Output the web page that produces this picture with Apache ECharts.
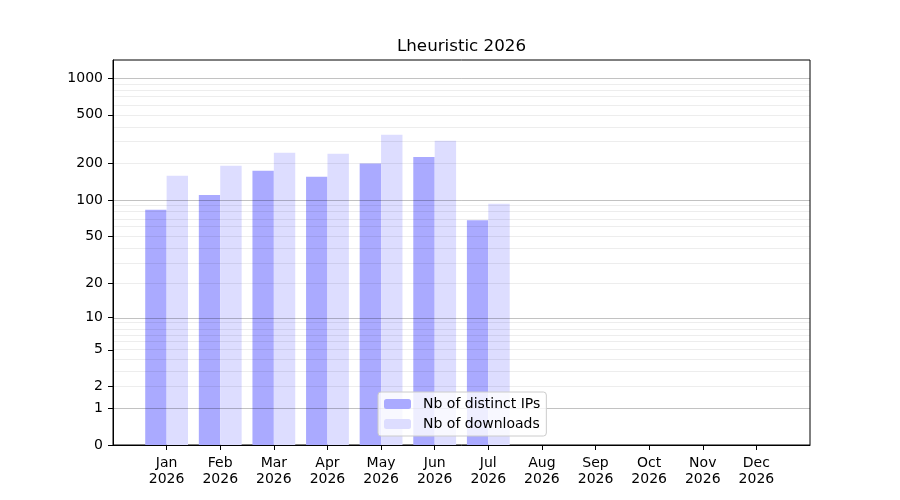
<!DOCTYPE html>
<html>
<head>
<meta charset="utf-8">
<script src="https://cdn.jsdelivr.net/npm/echarts@6/dist/echarts.min.js"></script>
<style>
  html, body { margin: 0; padding: 0; background: #fff; }
  #chart { width: 900px; height: 500px; }
</style>
</head>
<body>
<div id="chart"></div>
<script>
// values
const months = ['Jan', 'Feb', 'Mar', 'Apr', 'May', 'Jun', 'Jul', 'Aug', 'Sep', 'Oct', 'Nov', 'Dec'];
const year = '2026';
const distinctIps = [83, 110, 174, 155, 199, 226, 68, 0, 0, 0, 0, 0];
const downloads = [158, 191, 244, 240, 343, 306, 93, 0, 0, 0, 0, 0];
const yTicks = [0, 1, 2, 5, 10, 20, 50, 100, 200, 500, 1000];
const majorGrid = [1, 10, 100, 1000];
const minorGrid = [2, 3, 4, 5, 6, 7, 8, 9, 20, 30, 40, 50, 60, 70, 80, 90,
                   200, 300, 400, 500, 600, 700, 800, 900];
const yTop = 1406;

// the y scale is log10(1 + x), so 0 can sit on the axis
function tf(v) { return Math.log10(1 + v); }
function untf(v) { return Math.round(Math.pow(10, v) - 1); }

// one empty slot on each side keeps the months off the frame
const cats = [''].concat(months.map(m => m + '\n' + year), ['']);
function pad(arr) { return ['-'].concat(arr.map(tf), ['-']); }

const gridLines = majorGrid.map(v => ({
  yAxis: tf(v), lineStyle: { color: 'rgba(0,0,0,0.24)', width: 1, type: 'solid' }
})).concat(minorGrid.map(v => ({
  yAxis: tf(v), lineStyle: { color: 'rgba(0,0,0,0.07)', width: 1, type: 'solid' }
})));

const font = 'DejaVu Sans';
const chart = echarts.init(document.getElementById('chart'));

chart.setOption({
  animation: false,
  backgroundColor: '#fff',
  textStyle: { fontFamily: font },
  title: {
    text: 'Lheuristic 2026',
    left: 397, top: 38,
    padding: 0,
    textStyle: { fontFamily: font, fontSize: 16.7, fontWeight: 'normal', color: '#000' }
  },
  grid: {
    left: 113, right: 90, top: 60, bottom: 55,
    show: true, borderColor: '#000', borderWidth: 1, backgroundColor: 'transparent'
  },
  legend: {
    data: ['Nb of distinct IPs', 'Nb of downloads'],
    orient: 'vertical',
    left: 378, top: 392,
    itemWidth: 27, itemHeight: 10, itemGap: 6,
    padding: [5, 6, 5, 6],
    backgroundColor: 'rgba(255,255,255,0.8)',
    borderColor: '#ccc', borderWidth: 1, borderRadius: 3,
    z: 10,
    textStyle: { fontFamily: font, fontSize: 14, color: '#000', padding: [0, 0, 0, 7] }
  },
  xAxis: {
    type: 'category',
    data: cats,
    boundaryGap: false,
    axisLine: { lineStyle: { color: '#000', width: 1 } },
    axisTick: {
      length: 5, lineStyle: { color: '#000' },
      interval: (i, v) => v !== ''
    },
    axisLabel: {
      interval: 0, margin: 10,
      fontFamily: font, fontSize: 14, lineHeight: 16.5, color: '#000'
    },
    splitLine: { show: false }
  },
  yAxis: {
    type: 'value',
    min: 0, max: tf(yTop),
    axisLine: { show: true, lineStyle: { color: '#000', width: 1 } },
    axisTick: {
      show: true, length: 5, lineStyle: { color: '#000' },
      customValues: yTicks.map(tf)
    },
    axisLabel: {
      margin: 10, fontFamily: font, fontSize: 14, color: '#000',
      padding: [2, 0, 0, 0],
      customValues: yTicks.map(tf),
      formatter: v => String(untf(v))
    },
    splitLine: { show: false }
  },
  series: [
    {
      name: 'Nb of distinct IPs', type: 'bar',
      data: pad(distinctIps),
      barWidth: 21.4, barGap: '0%',
      itemStyle: { color: '#aaaaff' }
    },
    {
      name: 'Nb of downloads', type: 'bar',
      data: pad(downloads),
      barWidth: 21.4, barGap: '0%',
      itemStyle: { color: '#ddddff' }
    },
    {
      name: 'grid', type: 'line', data: [], z: 5,
      markLine: { silent: true, symbol: 'none', label: { show: false }, data: gridLines }
    }
  ]
});
</script>
</body>
</html>
